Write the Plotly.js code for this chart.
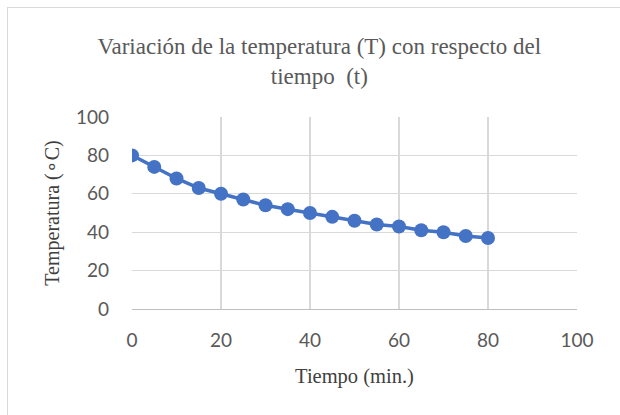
<!DOCTYPE html>
<html>
<head>
<meta charset="utf-8">
<script src="https://cdn.plot.ly/plotly-3.0.1.min.js"></script>
<style>
  html, body { margin: 0; padding: 0; background: #ffffff; overflow: hidden; }
  #frame { position: absolute; left: 7px; top: 7px; width: 700px; height: 500px; border: 1.5px solid #d9d9d9; }
  #chart { position: absolute; left: 0; top: 0; width: 620px; height: 415px; }
</style>
</head>
<body>
<div id="frame"></div>
<div id="chart"></div>
<script>
const tiempo = [0, 5, 10, 15, 20, 25, 30, 35, 40, 45, 50, 55, 60, 65, 70, 75, 80];
const temperatura = [80, 74, 68, 63, 60, 57, 54, 52, 50, 48, 46, 44, 43, 41, 40, 38, 37];
const xTicks = [0, 20, 40, 60, 80, 100];
const yTicks = [0, 20, 40, 60, 80, 100];

const trace = {
  x: tiempo,
  y: temperatura,
  type: 'scatter',
  mode: 'lines+markers',
  line: { color: '#4472C4', width: 3.5 },
  marker: { color: '#4472C4', size: 14 },
  hoverinfo: 'none'
};

const serif = 'Liberation Serif, Times New Roman, serif';
const sans = 'Lato, Open Sans, sans-serif';

const layout = {
  width: 620,
  height: 415,
  paper_bgcolor: 'rgba(0,0,0,0)',
  plot_bgcolor: 'rgba(0,0,0,0)',
  margin: { l: 132, r: 43, t: 117, b: 106 },
  showlegend: false,
  title: {
    text: 'Variación de la temperatura (T) con respecto del<br>tiempo  (t)',
    font: { family: serif, size: 23, color: '#595959' },
    x: 0.515, xanchor: 'center',
    y: 0.87, yanchor: 'top'
  },
  xaxis: {
    range: [0, 100],
    tickvals: xTicks,
    ticktext: xTicks.map(String),
    showgrid: true,
    gridcolor: '#d9d9d9',
    gridwidth: 1.3,
    zeroline: false,
    showline: true,
    linecolor: '#bfbfbf',
    linewidth: 1.3,
    ticks: '',
    tickfont: { family: sans, size: 19, color: '#595959' },
    ticklabelstandoff: 14,
    title: { text: 'Tiempo (min.)', font: { family: serif, size: 20.5, color: '#404040' }, standoff: 18 }
  },
  yaxis: {
    range: [0, 100],
    tickvals: yTicks,
    ticktext: yTicks.map(String),
    showgrid: true,
    gridcolor: '#d9d9d9',
    gridwidth: 1.3,
    zeroline: false,
    showline: false,
    ticks: '',
    tickfont: { family: sans, size: 19, color: '#595959' },
    ticklabelstandoff: 22,
    title: { text: 'Temperatura (∘C)', font: { family: serif, size: 20, color: '#404040' }, standoff: 10 }
  }
};

Plotly.newPlot('chart', [trace], layout, { displayModeBar: false, staticPlot: true });
</script>
</body>
</html>
